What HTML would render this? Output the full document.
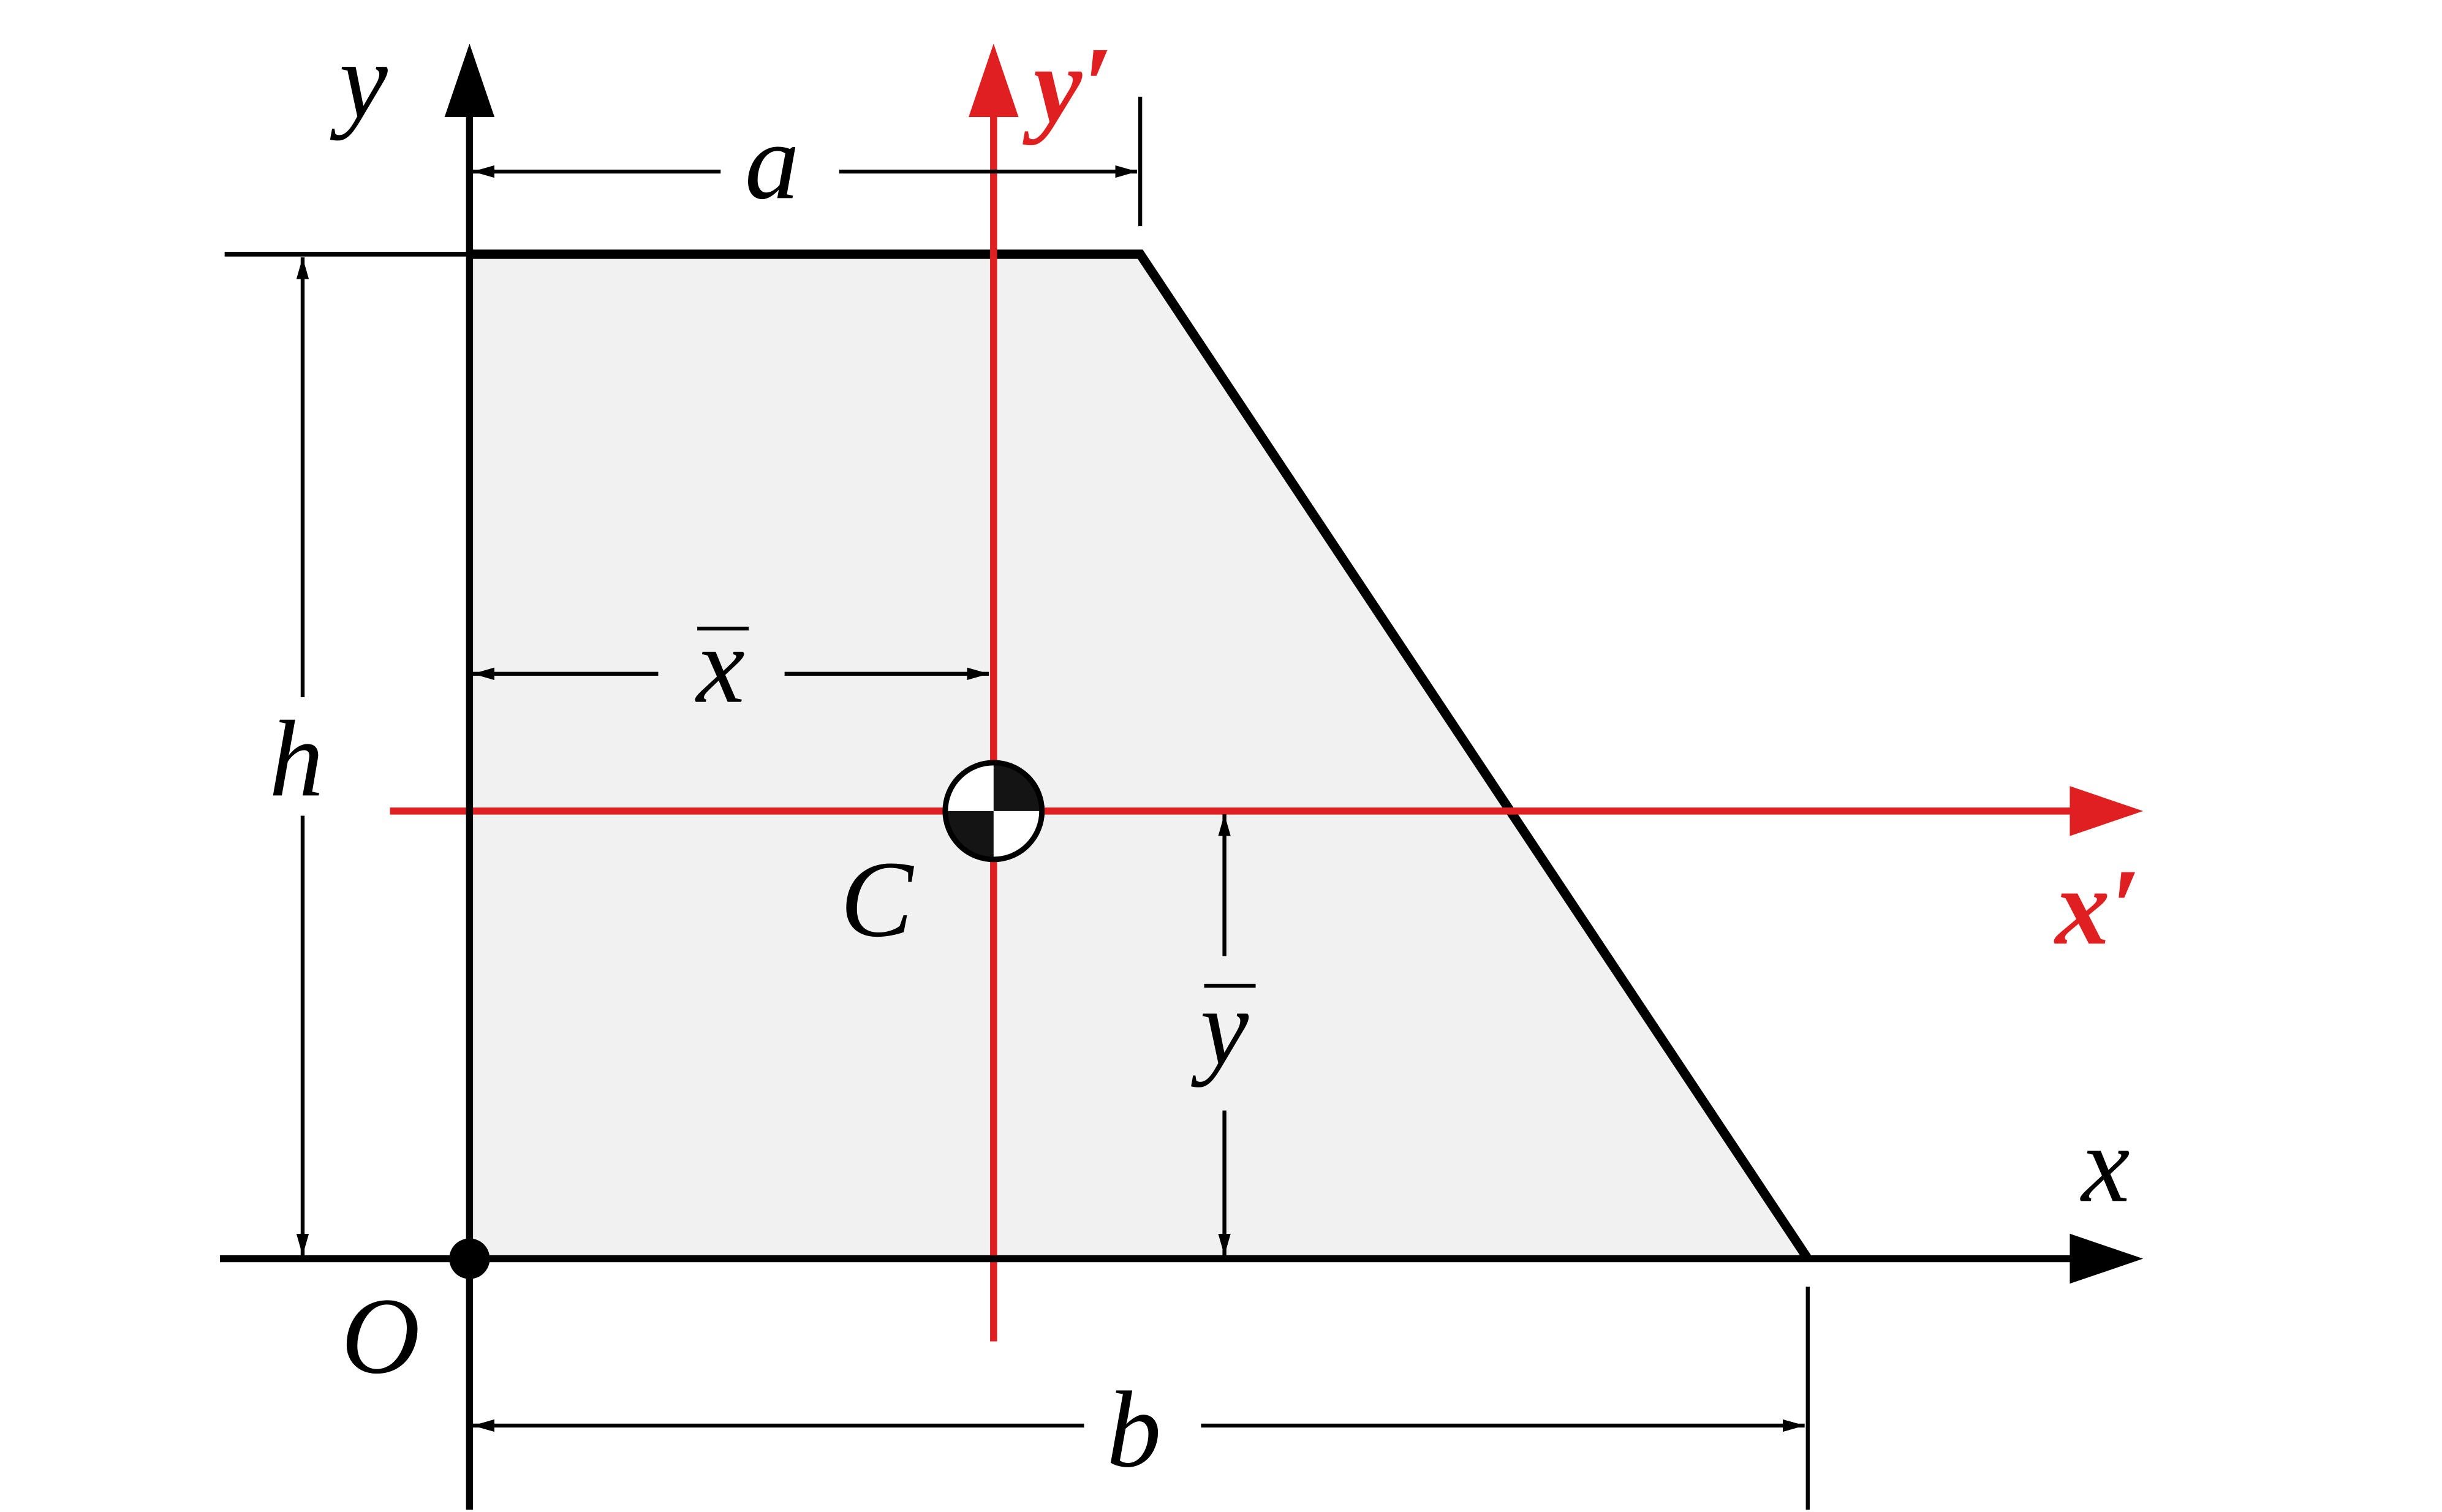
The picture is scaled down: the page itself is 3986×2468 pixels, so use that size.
<!DOCTYPE html>
<html><head><meta charset="utf-8"><style>html,body{margin:0;padding:0;background:#fff}svg{display:block}text{font-family:"Liberation Serif",serif;font-style:italic}</style></head>
<body>
<svg width="3986" height="2468" viewBox="0 0 1565.6 969.4" xmlns="http://www.w3.org/2000/svg">
<defs>
<marker id="ah" viewBox="0 0 14 8" refX="14" refY="4" markerWidth="14" markerHeight="8" markerUnits="userSpaceOnUse" orient="auto-start-reverse"><path d="M0,0L14,4L0,8z" fill="#000"/></marker>
</defs>
<polygon points="301,163 731,163 1159,807 301,807" fill="#f1f1f1"/>
<line x1="144" y1="163" x2="301" y2="163" stroke="#000" stroke-width="3"/>
<polyline points="301,163 731,163 1159,807" fill="none" stroke="#000" stroke-width="6"/>
<line x1="637" y1="860" x2="637" y2="70" stroke="#e02020" stroke-width="4.5"/>
<polygon points="637,28 621,75 653,75" fill="#e02020"/>
<line x1="250" y1="520" x2="1330" y2="520" stroke="#e02020" stroke-width="4.5"/>
<polygon points="1374,520 1327,504 1327,536" fill="#e02020"/>
<line x1="301" y1="968" x2="301" y2="70" stroke="#000" stroke-width="4.5"/>
<polygon points="301,28 285,75 317,75" fill="#000"/>
<line x1="141" y1="807" x2="1330" y2="807" stroke="#000" stroke-width="4.5"/>
<polygon points="1374,807 1327,791 1327,823" fill="#000"/>
<circle cx="301" cy="807" r="13" fill="#000"/>
<line x1="731" y1="62" x2="731" y2="145" stroke="#000" stroke-width="2.5"/>
<line x1="1159" y1="825" x2="1159" y2="968" stroke="#000" stroke-width="2.5"/>
<g stroke="#000" stroke-width="2.5">
<line x1="462" y1="110" x2="303" y2="110" marker-end="url(#ah)"/>
<line x1="538" y1="110" x2="729" y2="110" marker-end="url(#ah)"/>
<line x1="194" y1="447" x2="194" y2="165" marker-end="url(#ah)"/>
<line x1="194" y1="523" x2="194" y2="805" marker-end="url(#ah)"/>
<line x1="422" y1="432" x2="303" y2="432" marker-end="url(#ah)"/>
<line x1="503" y1="432" x2="634" y2="432" marker-end="url(#ah)"/>
<line x1="785" y1="613" x2="785" y2="522" marker-end="url(#ah)"/>
<line x1="785" y1="712" x2="785" y2="805" marker-end="url(#ah)"/>
<line x1="695" y1="914" x2="303" y2="914" marker-end="url(#ah)"/>
<line x1="770" y1="914" x2="1157" y2="914" marker-end="url(#ah)"/>
</g>
<circle cx="637" cy="520" r="31" fill="#fff"/>
<path d="M637,520 L637,489 A31,31 0 0 1 668,520 Z" fill="#141414"/>
<path d="M637,520 L637,551 A31,31 0 0 1 606,520 Z" fill="#141414"/>
<circle cx="637" cy="520" r="31" fill="none" stroke="#000" stroke-width="3.5"/>
<g font-size="70" fill="#000" text-anchor="middle">
<text x="233" y="75">y</text>
<text x="495" y="127">a</text>
<text x="190" y="510">h</text>
<text x="462" y="450">x</text>
<line x1="447" y1="403" x2="480" y2="403" stroke="#000" stroke-width="2.5"/>
<text x="562" y="600">C</text>
<text x="785" y="682">y</text>
<line x1="772" y1="632" x2="805" y2="632" stroke="#000" stroke-width="2.5"/>
<text x="1350" y="770">x</text>
<text x="244" y="880">O</text>
<text x="727" y="940">b</text>
</g>
<g font-size="70" fill="#e02020" text-anchor="middle" font-weight="bold">
<text x="688" y="78">y′</text>
<text x="1345" y="605">x′</text>
</g>
</svg>
</body></html>
